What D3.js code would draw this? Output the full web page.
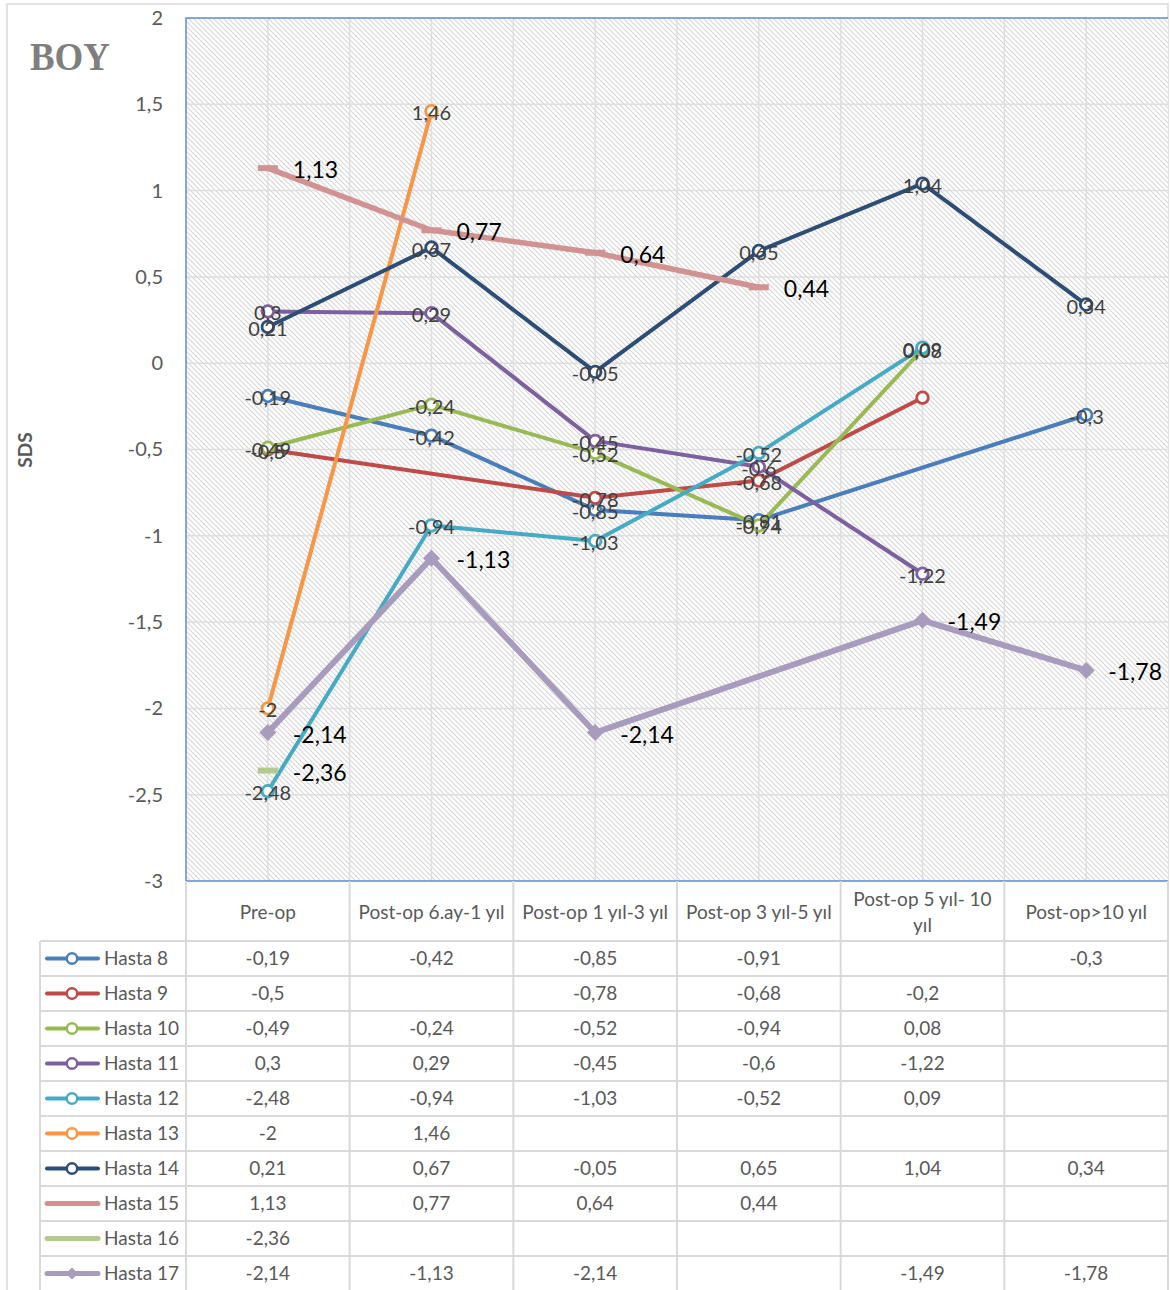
<!DOCTYPE html>
<html>
<head>
<meta charset="utf-8">
<script src="https://cdn.jsdelivr.net/npm/d3@7/dist/d3.min.js"></script>
<style>
  html, body { margin: 0; padding: 0; background: #ffffff; }
  svg { display: block; }
  text { font-family: Lato, "Noto Sans", sans-serif; }
</style>
</head>
<body>
<svg id="chart" width="1171" height="1290"></svg>
<script>
// Time points on the x axis
const categories = [
  "Pre-op",
  "Post-op 6.ay-1 yıl",
  "Post-op 1 yıl-3 yıl",
  "Post-op 3 yıl-5 yıl",
  "Post-op 5 yıl- 10 yıl",
  "Post-op>10 yıl"
];

// Patient names, in legend / table order
const patients = ["Hasta 8", "Hasta 9", "Hasta 10", "Hasta 11", "Hasta 12",
                  "Hasta 13", "Hasta 14", "Hasta 15", "Hasta 16", "Hasta 17"];

// Height SDS per patient (null = no measurement)
const hasta8  = [-0.19, -0.42, -0.85, -0.91, null, -0.3];
const hasta9  = [-0.5, null, -0.78, -0.68, -0.2, null];
const hasta10 = [-0.49, -0.24, -0.52, -0.94, 0.08, null];
const hasta11 = [0.3, 0.29, -0.45, -0.6, -1.22, null];
const hasta12 = [-2.48, -0.94, -1.03, -0.52, 0.09, null];
const hasta13 = [-2, 1.46, null, null, null, null];
const hasta14 = [0.21, 0.67, -0.05, 0.65, 1.04, 0.34];
const hasta15 = [1.13, 0.77, 0.64, 0.44, null, null];
const hasta16 = [-2.36, null, null, null, null, null];
const hasta17 = [-2.14, -1.13, -2.14, null, -1.49, -1.78];

// Points whose data label is switched off: [patient, category index]
const hiddenLabels = [["Hasta 9", 4]];

// Y axis ticks
const yTicks = [2, 1.5, 1, 0.5, 0, -0.5, -1, -1.5, -2, -2.5, -3];

const chartTitle = "BOY";
const yAxisTitle = "SDS";

// ---- styling ----
const seriesValues = [hasta8, hasta9, hasta10, hasta11, hasta12,
                      hasta13, hasta14, hasta15, hasta16, hasta17];
const seriesColors = ["#4a7ebb", "#be4b48", "#98b954", "#7d60a0", "#46aac5",
                      "#f79646", "#2c4d75", "#d19392", "#b3ca8e", "#a99bbd"];
const seriesMarker = ["circle", "circle", "circle", "circle", "circle",
                      "circle", "circle", "dash", "dash", "diamond"];
const seriesWidth  = [4, 4, 4, 4, 4, 4, 4, 5.5, 5.5, 6];
// "center" labels sit on the point; "right" labels are set to the right of it
const labelPlacement = ["center", "center", "center", "center", "center",
                        "center", "center", "right", "right", "right"];

const fmt = v => String(v).replace(".", ",");

const svg = d3.select("#chart");
const W = 1171, H = 1290;
const plot = { left: 186, right: 1168, top: 18, bottom: 881 };
const table = { left: 40, headerBottom: 941, rowH: 35 };

const x = d3.scaleBand().domain(categories).range([plot.left, plot.right]).padding(0);
const bw = x.bandwidth();
const cx = c => x(c) + bw / 2;
const y = d3.scaleLinear().domain([-3, 2]).range([plot.bottom, plot.top]);

// ---- defs: hatched plot fill ----
const defs = svg.append("defs");
const pat = defs.append("pattern")
  .attr("id", "hatch")
  .attr("patternUnits", "userSpaceOnUse")
  .attr("width", 5).attr("height", 5);
pat.append("rect").attr("width", 5).attr("height", 5).attr("fill", "#ffffff");
pat.append("path")
  .attr("d", "M0,0 L5,5 M-1,4 L1,6 M4,-1 L6,1")
  .attr("stroke", "#d6d6d6").attr("stroke-width", 1.1);

// outer chart frame
svg.append("rect")
  .attr("x", 7).attr("y", 4).attr("width", 1161).attr("height", H + 10)
  .attr("fill", "#ffffff").attr("stroke", "#d9d9d9").attr("stroke-width", 1.5);

// plot area
svg.append("rect")
  .attr("x", plot.left).attr("y", plot.top)
  .attr("width", plot.right - plot.left).attr("height", plot.bottom - plot.top)
  .attr("fill", "url(#hatch)");

// gridlines
const grid = svg.append("g").attr("stroke", "#dedede").attr("stroke-width", 1.5);
yTicks.filter(t => t > -3 && t < 2).forEach(t => {
  grid.append("line")
    .attr("x1", plot.left).attr("x2", plot.right)
    .attr("y1", y(t)).attr("y2", y(t));
});
const vGrid = [];
categories.forEach((c, i) => {
  vGrid.push(cx(c));
  if (i > 0) vGrid.push(x(c));
});
vGrid.forEach(vx => {
  grid.append("line")
    .attr("x1", vx).attr("x2", vx)
    .attr("y1", plot.top).attr("y2", plot.bottom);
});

// plot border
const border = svg.append("g").attr("stroke", "#5d8ccc").attr("stroke-width", 1.5).attr("fill", "none");
border.append("path").attr("d",
  `M${plot.right},${plot.top} H${plot.left} V${plot.bottom} H${plot.right}`);

// y axis labels
const yAxis = d3.axisLeft(y).tickValues(yTicks).tickFormat(fmt).tickSize(0).tickPadding(0);
const yg = svg.append("g").attr("transform", `translate(${plot.left - 23},0)`).call(yAxis);
yg.select(".domain").remove();
yg.selectAll("text")
  .attr("fill", "#595959")
  .style("font-size", "20px")
  .style("font-family", "Lato, 'Noto Sans', sans-serif");

// y axis title
svg.append("text")
  .attr("transform", `translate(32,450) rotate(-90)`)
  .attr("text-anchor", "middle")
  .attr("fill", "#595959")
  .style("font-size", "19px").style("font-weight", "bold")
  .text(yAxisTitle);

// chart title
svg.append("text")
  .attr("x", 30).attr("y", 70)
  .attr("fill", "#7f7f7f")
  .attr("textLength", 80).attr("lengthAdjust", "spacingAndGlyphs")
  .style("font-family", "'Liberation Serif', 'DejaVu Serif', serif")
  .style("font-size", "41px").style("font-weight", "bold")
  .text(chartTitle);

// ---- series ----
const series = patients.map((name, i) => ({
  name, i,
  color: seriesColors[i],
  marker: seriesMarker[i],
  width: seriesWidth[i],
  points: seriesValues[i]
    .map((v, k) => ({ v, k, c: categories[k] }))
    .filter(p => p.v !== null)
}));

const line = d3.line().x(p => cx(p.c)).y(p => y(p.v));

function drawMarker(g, type, color, px, py, scale) {
  const s = scale || 1;
  if (type === "circle") {
    g.append("circle").attr("cx", px).attr("cy", py).attr("r", 5.8 * s)
      .attr("fill", "#ffffff").attr("stroke", color).attr("stroke-width", 2.8 * s);
  } else if (type === "diamond") {
    const r = 8.5 * s;
    g.append("path")
      .attr("d", `M${px},${py - r} L${px + r},${py} L${px},${py + r} L${px - r},${py} Z`)
      .attr("fill", color);
  } else if (type === "dash") {
    g.append("rect").attr("x", px - 10).attr("y", py - 3).attr("width", 20).attr("height", 6)
      .attr("fill", color);
  }
}

const seriesG = svg.append("g");
series.forEach(s => {
  const g = seriesG.append("g");
  if (s.points.length > 1) {
    g.append("path").datum(s.points)
      .attr("d", line)
      .attr("fill", "none").attr("stroke", s.color)
      .attr("stroke-width", s.width)
      .attr("stroke-linejoin", "round").attr("stroke-linecap", "round");
  }
  s.points.forEach(p => drawMarker(g, s.marker, s.color, cx(p.c), y(p.v)));
});

// data labels
const labelG = svg.append("g");
series.forEach(s => {
  s.points.forEach(p => {
    if (hiddenLabels.some(h => h[0] === s.name && h[1] === p.k)) return;
    const px = cx(p.c), py = y(p.v);
    if (labelPlacement[s.i] === "center") {
      labelG.append("text")
        .attr("x", px).attr("y", py + 1)
        .attr("text-anchor", "middle").attr("dominant-baseline", "central")
        .attr("fill", "#404040").style("font-size", "20px")
        .text(fmt(p.v));
    } else {
      const t = labelG.append("text")
        .attr("x", px + 25).attr("y", py + 1)
        .attr("dominant-baseline", "central")
        .attr("fill", "#000000").style("font-size", "23px")
        .text(fmt(p.v));
      const w = t.node().getComputedTextLength();
      if (px + 25 + w > plot.right - 6) t.attr("x", plot.right - 6 - w);
    }
  });
});

// ---- data table ----
const tbl = svg.append("g");
const rowTop = i => table.headerBottom + i * table.rowH;
const tableBottom = rowTop(patients.length);
const lineColor = "#d9d9d9";
const maxHeaderW = bw - 12;

// header cells
const hdr = tbl.append("g");
categories.forEach(c => {
  const t = hdr.append("text")
    .attr("x", cx(c)).attr("text-anchor", "middle")
    .attr("fill", "#595959").style("font-size", "19px");
  // wrap long header text onto two lines
  const words = c.split(" ");
  t.text(c);
  let lines = [c];
  if (t.node().getComputedTextLength() > maxHeaderW) {
    lines = [];
    let cur = [];
    t.text("");
    const probe = t.append("tspan");
    words.forEach(wd => {
      const trial = cur.concat([wd]).join(" ");
      probe.text(trial);
      if (probe.node().getComputedTextLength() > maxHeaderW && cur.length) {
        lines.push(cur.join(" "));
        cur = [wd];
      } else {
        cur.push(wd);
      }
    });
    lines.push(cur.join(" "));
    probe.remove();
  }
  t.text("");
  const mid = (plot.bottom + table.headerBottom) / 2;
  const lh = 26;
  lines.forEach((ln, k) => {
    t.append("tspan")
      .attr("x", cx(c))
      .attr("y", mid + (k - (lines.length - 1) / 2) * lh)
      .attr("dominant-baseline", "central")
      .text(ln);
  });
});

// table grid
const tg = tbl.append("g").attr("stroke", lineColor).attr("stroke-width", 2);
for (let i = 0; i <= patients.length; i++) {
  tg.append("line").attr("x1", table.left).attr("x2", plot.right)
    .attr("y1", rowTop(i)).attr("y2", rowTop(i));
}
tg.append("line").attr("x1", table.left).attr("x2", table.left)
  .attr("y1", table.headerBottom).attr("y2", tableBottom);
categories.forEach(c => {
  tg.append("line").attr("x1", x(c)).attr("x2", x(c))
    .attr("y1", plot.bottom).attr("y2", tableBottom);
});
tg.append("line").attr("x1", plot.right).attr("x2", plot.right)
  .attr("y1", plot.bottom).attr("y2", tableBottom);

// legend keys and values
series.forEach(s => {
  const cyRow = rowTop(s.i) + table.rowH / 2;
  const g = tbl.append("g");
  g.append("line")
    .attr("x1", 47).attr("x2", 98).attr("y1", cyRow).attr("y2", cyRow)
    .attr("stroke", s.color).attr("stroke-width", s.width > 5 ? 5 : 4)
    .attr("stroke-linecap", "round");
  if (s.marker === "circle") drawMarker(g, "circle", s.color, 72, cyRow, 0.9);
  if (s.marker === "diamond") drawMarker(g, "diamond", s.color, 72, cyRow, 0.7);
  g.append("text")
    .attr("x", 104).attr("y", cyRow - 1)
    .attr("dominant-baseline", "central")
    .attr("fill", "#595959").style("font-size", "19px")
    .text(s.name);
  seriesValues[s.i].forEach((v, k) => {
    if (v === null) return;
    g.append("text")
      .attr("x", cx(categories[k])).attr("y", cyRow - 1)
      .attr("text-anchor", "middle").attr("dominant-baseline", "central")
      .attr("fill", "#595959").style("font-size", "19px")
      .text(fmt(v));
  });
});
</script>
</body>
</html>
